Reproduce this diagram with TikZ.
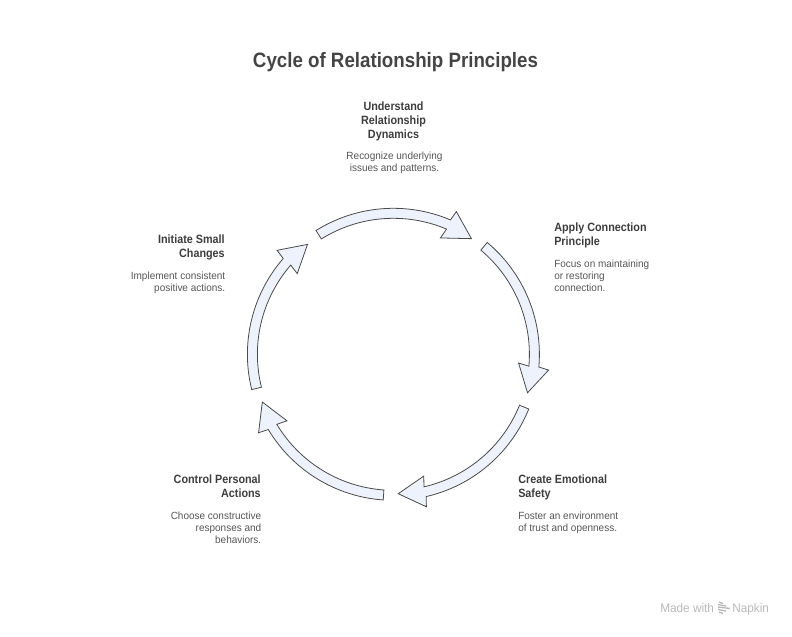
\documentclass[tikz,border=0pt]{standalone}
\usepackage{fontspec}
\setmainfont{Liberation Sans}
\newfontfamily\condbold[FakeStretch=0.9]{Liberation Sans Bold}
\newfontfamily\condbody[FakeStretch=0.96]{Liberation Sans}
\newfontfamily\condmark[FakeStretch=0.95]{Liberation Sans}
\definecolor{arrowfill}{HTML}{EDF2FC}
\definecolor{arrowline}{HTML}{4A4A4A}
\definecolor{titlecol}{HTML}{444444}
\definecolor{headcol}{HTML}{3D3D3D}
\definecolor{bodycol}{HTML}{555555}
\definecolor{markcol}{HTML}{B8B8B8}
\tikzset{
  cyclearrow/.style={draw=arrowline,fill=arrowfill,line width=0.6pt,line join=miter},
  titletext/.style={font=\condbold\fontsize{15.6}{18}\selectfont,text=titlecol,inner sep=0pt},
  headtext/.style={font=\condbold\fontsize{9}{10.5}\selectfont,text=headcol,inner sep=0pt,anchor=north},
  bodytext/.style={font=\condbody\fontsize{7.8}{9}\selectfont,text=bodycol,inner sep=0pt,anchor=north},
  marktext/.style={font=\condmark\fontsize{9.3}{10}\selectfont,text=markcol,inner sep=0pt},
}
\newcommand{\cyclearrowshape}[1]{%
  \pgfmathsetmacro{\ta}{#1-122}
  \pgfmathsetmacro{\ba}{#1-67}
  \pgfmathsetmacro{\tp}{#1-56}
  \pgfmathsetmacro{\bi}{#1-68}
  \pgfmathsetmacro{\bo}{#1-66.2}
  \draw[cyclearrow]
    plot[domain=\ta:\ba,samples=40] ({393.4+146*cos(\x)},{354.3+146*sin(\x)})
    -- ({393.4+156*cos(\bo)},{354.3+156*sin(\bo)})
    -- ({393.4+139.5*cos(\tp)},{354.3+139.5*sin(\tp)})
    -- ({393.4+125.5*cos(\bi)},{354.3+125.5*sin(\bi)})
    -- plot[domain=\ba:\ta,samples=40] ({393.4+136*cos(\x)},{354.3+136*sin(\x)})
    -- cycle;
}
\begin{document}
\begin{tikzpicture}[x=0.75pt,y=-0.75pt]
\useasboundingbox (0,0) rectangle (792,636);
\cyclearrowshape{0}
\cyclearrowshape{72}
\cyclearrowshape{144}
\cyclearrowshape{216}
\cyclearrowshape{288}
\node[titletext] (title) at (395.5,62) {Cycle of Relationship Principles};

\node[headtext,align=center] (h1) at (393.5,100) {\strut Understand\\Relationship\\Dynamics};
\node[bodytext,align=center] (b1) at (394.5,151) {\strut Recognize underlying\\issues and patterns.};

\node[headtext,align=left,anchor=north west] (h2) at (554,221) {\strut Apply Connection\\Principle};
\node[bodytext,align=left,anchor=north west] (b2) at (554,259) {\strut Focus on maintaining\\or restoring\\connection.};

\node[headtext,align=left,anchor=north west] (h3) at (518,473) {\strut Create Emotional\\Safety};
\node[bodytext,align=left,anchor=north west] (b3) at (518,511) {\strut Foster an environment\\of trust and openness.};

\node[headtext,align=right,anchor=north east] (h4) at (261,473) {\strut Control Personal\\Actions};
\node[bodytext,align=right,anchor=north east] (b4) at (261.5,511) {\strut Choose constructive\\responses and\\behaviors.};

\node[headtext,align=right,anchor=north east] (h5) at (225,233) {\strut Initiate Small\\Changes};
\node[bodytext,align=right,anchor=north east] (b5) at (225.5,271) {\strut Implement consistent\\positive actions.};

\node[marktext,anchor=base west] (made) at (660,612) {Made with};
\node[marktext,anchor=base west] (napkin) at (732,612) {Napkin};
\foreach \yy/\xa/\xb in {602/719/723,604.5/718/726,607/718/730,609.5/718/726,612/719/723}
  \draw[markcol,line width=1pt] (\xa,\yy) -- (\xb,\yy+1.5);
\end{tikzpicture}
\end{document}
